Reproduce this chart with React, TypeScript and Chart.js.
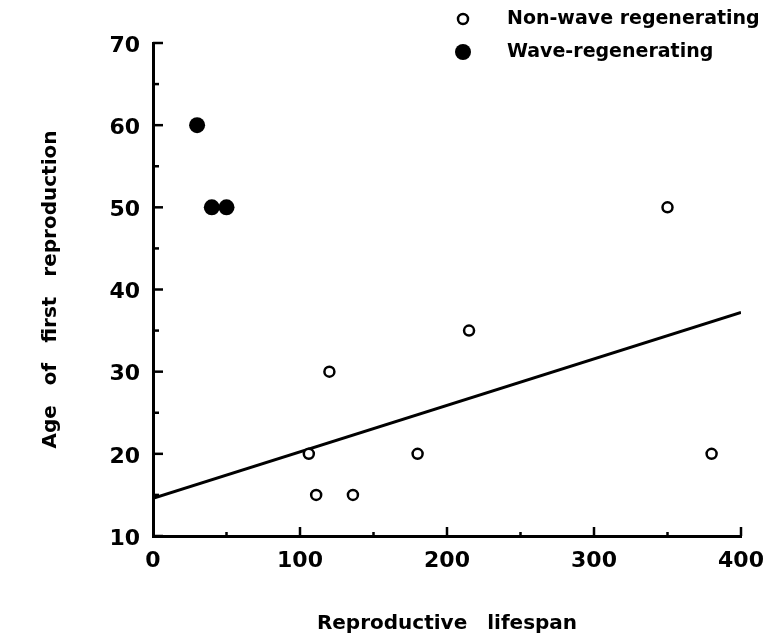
import React, { useEffect, useRef } from 'react';
import { Chart, registerables } from 'chart.js';

Chart.register(...registerables);

// Data
const nonWaveLifespan = [106, 111, 120, 136, 180, 215, 350, 380];
const nonWaveAge = [20, 15, 30, 15, 20, 35, 50, 20];
const waveLifespan = [30, 40, 50];
const waveAge = [60, 50, 50];
const fitLifespan = [0, 400];
const fitAge = [14.6, 37.2];

const xMin = 0;
const xMax = 400;
const xMajorStep = 100;
const xMinorStep = 50;
const yMin = 10;
const yMax = 70;
const yMajorStep = 10;
const yMinorStep = 5;

const seriesLabels = ['Non-wave regenerating', 'Wave-regenerating', 'Regression'];
const xTitle = 'Reproductive lifespan';
const yTitle = 'Age of first reproduction';

const FONT = "'DejaVu Sans', 'Liberation Sans', Arial, sans-serif";

const toPoints = (xs: number[], ys: number[]) => xs.map((x, i) => ({ x, y: ys[i] }));

const inwardTicks = {
  id: 'inwardTicks',
  beforeDraw(chart: any) {
    try { (chart.ctx as any).wordSpacing = '13px'; } catch (e) {}
  },
  afterDraw(chart: any) {
    const ctx = chart.ctx as CanvasRenderingContext2D;
    const xs = chart.scales.x;
    const ys = chart.scales.y;
    const area = chart.chartArea;
    ctx.save();
    ctx.strokeStyle = '#000';
    ctx.lineWidth = 2.5;
    ctx.lineCap = 'butt';
    for (let v = yMin; v <= yMax; v += yMinorStep) {
      const py = ys.getPixelForValue(v);
      const len = v % yMajorStep === 0 ? 10 : 6;
      ctx.beginPath();
      ctx.moveTo(area.left, py);
      ctx.lineTo(area.left + len, py);
      ctx.stroke();
    }
    for (let v = xMin + xMinorStep; v <= xMax; v += xMinorStep) {
      const px = xs.getPixelForValue(v);
      const len = v % xMajorStep === 0 ? 9 : 4;
      ctx.beginPath();
      ctx.moveTo(px, area.bottom);
      ctx.lineTo(px, area.bottom - len);
      ctx.stroke();
    }
    ctx.restore();

    // Legend (top right)
    ctx.save();
    try { (ctx as any).wordSpacing = '0px'; } catch (e) {}
    const ds = chart.data.datasets;
    const items = [
      { d: ds[0], cx: 463, cy: 19 },
      { d: ds[1], cx: 463, cy: 52 },
    ];
    ctx.font = `bold 19px ${FONT}`;
    ctx.textBaseline = 'middle';
    ctx.textAlign = 'left';
    ctx.fillStyle = '#000';
    items.forEach(({ d, cx, cy }) => {
      ctx.beginPath();
      ctx.arc(cx, cy, d.pointRadius, 0, Math.PI * 2);
      ctx.fillStyle = d.backgroundColor;
      ctx.fill();
      ctx.lineWidth = d.borderWidth;
      ctx.strokeStyle = d.borderColor;
      if (d.borderWidth > 0) ctx.stroke();
      ctx.fillStyle = '#000';
      ctx.fillText(d.label, 507, cy);
    });
    ctx.restore();
  },
};

export default function App() {
  const ref = useRef<HTMLCanvasElement | null>(null);

  useEffect(() => {
    if (!ref.current) return;
    const chart = new Chart(ref.current, {
      type: 'scatter',
      data: {
        datasets: [
          {
            label: seriesLabels[0],
            data: toPoints(nonWaveLifespan, nonWaveAge),
            pointRadius: 5,
            pointHoverRadius: 5,
            borderWidth: 2.5,
            backgroundColor: '#ffffff',
            borderColor: '#000000',
          },
          {
            label: seriesLabels[1],
            data: toPoints(waveLifespan, waveAge),
            pointRadius: 8,
            pointHoverRadius: 8,
            borderWidth: 0,
            backgroundColor: '#000000',
            borderColor: '#000000',
          },
          {
            label: seriesLabels[2],
            data: toPoints(fitLifespan, fitAge),
            showLine: true,
            pointRadius: 0,
            borderWidth: 3,
            borderColor: '#000000',
            backgroundColor: '#000000',
          },
        ],
      },
      options: {
        animation: false,
        responsive: false,
        devicePixelRatio: 1,
        layout: { padding: { top: 43, right: 28, left: 0, bottom: 0 } },
        plugins: {
          legend: { display: false },
          tooltip: { enabled: false },
        },
        scales: {
          x: {
            type: 'linear',
            min: xMin,
            max: xMax,
            grid: { display: false, drawTicks: false },
            border: { display: true, width: 3, color: '#000' },
            ticks: {
              stepSize: xMajorStep,
              color: '#000',
              padding: 12,
              font: { family: FONT, size: 22, weight: 'bold' },
            },
            title: {
              display: true,
              text: xTitle,
              color: '#000',
              font: { family: FONT, size: 20, weight: 'bold' },
              padding: { top: 0, bottom: 5 },
            },
            afterFit: (s: any) => { s.height = 105; s.paddingRight = 0; s.paddingLeft = 0; },
          },
          y: {
            type: 'linear',
            min: yMin,
            max: yMax,
            grid: { display: false, drawTicks: false },
            border: { display: true, width: 3, color: '#000' },
            ticks: {
              stepSize: yMajorStep,
              color: '#000',
              padding: 13,
              labelOffset: 3,
              font: { family: FONT, size: 22, weight: 'bold' },
            },
            title: {
              display: true,
              text: yTitle,
              color: '#000',
              font: { family: FONT, size: 20, weight: 'bold' },
              padding: { top: 39, bottom: 0 },
            },
            afterFit: (s: any) => { s.width = 153; s.paddingTop = 0; s.paddingBottom = 0; },
          },
        },
      },
      plugins: [inwardTicks],
    } as any);
    return () => chart.destroy();
  }, []);

  return (
    <div style={{ position: 'absolute', left: 0, top: 0, width: 769, height: 641, background: '#fff' }}>
      <canvas ref={ref} width={769} height={641} style={{ display: 'block' }} />
    </div>
  );
}
